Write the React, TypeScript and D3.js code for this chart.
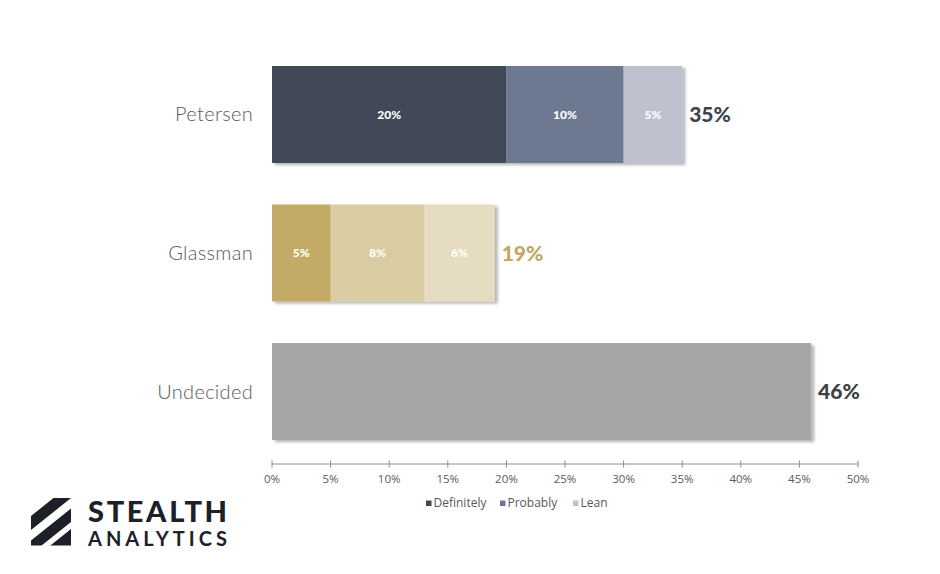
import { useEffect, useRef } from "react"
import * as d3 from "d3"

// Chart data
const candidates = ["Petersen", "Glassman", "Undecided"]
const definitely = [20, 5, 46]
const probably = [10, 8, 0]
const lean = [5, 6, 0]
const seriesNames = ["Definitely", "Probably", "Lean"]
const xTicks = [0, 5, 10, 15, 20, 25, 30, 35, 40, 45, 50]

// colours per candidate (segment shades) and for the total label
const palettes: Record<string, string[]> = {
  Petersen: ["#404855", "#6d7891", "#bdc2ce"],
  Glassman: ["#c3aa66", "#d9cca3", "#e6dcc2"],
  Undecided: ["#a6a6a6", "#a6a6a6", "#a6a6a6"],
}
const totalColors: Record<string, string> = {
  Petersen: "#3d4451",
  Glassman: "#c2a862",
  Undecided: "#404040",
}
const legendColors = ["#404855", "#6d7891", "#bdc2ce"]

interface Segment {
  candidate: string
  series: number
  start: number
  value: number
}

export default function App() {
  const svgRef = useRef<SVGSVGElement>(null)

  useEffect(() => {
    document.body.style.margin = "0"
    if (!svgRef.current) return
    const svg = d3.select(svgRef.current)
    svg.selectAll("*").remove()

    const width = 940
    const height = 574
    svg.attr("width", width).attr("height", height)

    const x = d3.scaleLinear().domain([0, 50]).range([272, 858])
    const y = d3.scaleBand<string>().domain(candidates).range([66, 440]).paddingInner(0.3)

    // shadow filter
    const defs = svg.append("defs")
    const filter = defs.append("filter").attr("id", "barShadow").attr("x", "-10%").attr("y", "-20%").attr("width", "130%").attr("height", "150%")
    filter
      .append("feDropShadow")
      .attr("dx", 3)
      .attr("dy", 2)
      .attr("stdDeviation", 1.8)
      .attr("flood-color", "#000")
      .attr("flood-opacity", 0.3)

    // build the stacked segments
    const segments: Segment[] = []
    candidates.forEach((c, i) => {
      const vals = [definitely[i], probably[i], lean[i]]
      let acc = 0
      vals.forEach((v, s) => {
        if (v > 0) segments.push({ candidate: c, series: s, start: acc, value: v })
        acc += v
      })
    })
    const totals = candidates.map((_, i) => definitely[i] + probably[i] + lean[i])

    // bars (one shadowed group per candidate)
    candidates.forEach((c) => {
      const g = svg.append("g").attr("filter", "url(#barShadow)")
      g.selectAll("rect")
        .data(segments.filter((d) => d.candidate === c))
        .enter()
        .append("rect")
        .attr("x", (d) => x(d.start))
        .attr("y", y(c)!)
        .attr("width", (d) => x(d.start + d.value) - x(d.start))
        .attr("height", y.bandwidth())
        .attr("fill", (d) => palettes[c][d.series])
    })

    // inner segment labels (not on the single undecided bar)
    svg
      .append("g")
      .selectAll("text")
      .data(segments.filter((d) => d.candidate !== "Undecided"))
      .enter()
      .append("text")
      .attr("x", (d) => x(d.start + d.value / 2))
      .attr("y", (d) => y(d.candidate)! + y.bandwidth() / 2)
      .attr("dy", "0.35em")
      .attr("text-anchor", "middle")
      .style("font-family", "Lato, sans-serif")
      .style("font-weight", "900")
      .style("font-size", "12px")
      .style("fill", "#ffffff")
      .text((d) => `${d.value}%`)

    // totals to the right of each bar
    svg
      .append("g")
      .selectAll("text")
      .data(candidates)
      .enter()
      .append("text")
      .attr("x", (_, i) => x(totals[i]) + 7)
      .attr("y", (c) => y(c)! + y.bandwidth() / 2)
      .attr("dy", "0.36em")
      .style("font-family", "Lato, sans-serif")
      .style("font-weight", "900")
      .style("font-size", "21px")
      .style("fill", (c) => totalColors[c])
      .text((_, i) => `${totals[i]}%`)

    // category labels
    svg
      .append("g")
      .selectAll("text")
      .data(candidates)
      .enter()
      .append("text")
      .attr("x", 253)
      .attr("y", (c) => y(c)! + y.bandwidth() / 2)
      .attr("dy", "0.35em")
      .attr("text-anchor", "end")
      .style("font-family", "Lato, sans-serif")
      .style("font-weight", "300")
      .style("font-size", "20px")
      .style("letter-spacing", "0.3px")
      .style("fill", "#5a5a5a")
      .text((c) => c)

    // x axis
    const axisY = 464
    const axis = svg.append("g")
    axis
      .append("line")
      .attr("x1", x(0))
      .attr("x2", x(50))
      .attr("y1", axisY)
      .attr("y2", axisY)
      .attr("stroke", "#8c8c8c")
      .attr("stroke-width", 1)
    axis
      .selectAll(".tick")
      .data(xTicks)
      .enter()
      .append("line")
      .attr("x1", (d) => x(d))
      .attr("x2", (d) => x(d))
      .attr("y1", axisY - 3.5)
      .attr("y2", axisY + 3.5)
      .attr("stroke", "#8c8c8c")
    axis
      .selectAll(".tickLabel")
      .data(xTicks)
      .enter()
      .append("text")
      .attr("x", (d) => x(d))
      .attr("y", 483)
      .attr("text-anchor", "middle")
      .style("font-family", "'Open Sans', sans-serif")
      .style("font-size", "11.5px")
      .style("fill", "#595959")
      .text((d) => `${d}%`)

    // legend
    const legendX = [426, 500, 573]
    const legend = svg
      .append("g")
      .selectAll("g")
      .data(seriesNames)
      .enter()
      .append("g")
      .attr("transform", (_, i) => `translate(${legendX[i]}, 503)`)
    legend.append("rect").attr("x", 0).attr("y", -2.5).attr("width", 5.5).attr("height", 5.5).attr("fill", (_, i) => legendColors[i])
    legend
      .append("text")
      .attr("x", 7.5)
      .attr("y", 4.3)
      .style("font-family", "'Open Sans', sans-serif")
      .style("font-size", "12px")
      .style("fill", "#595959")
      .text((d) => d)

    // logo
    const logo = svg.append("g")
    const clip = defs.append("clipPath").attr("id", "logoClip")
    clip.append("rect").attr("x", 31).attr("y", 498).attr("width", 40).attr("height", 47.5)
    // stripes: bands between lines v + 0.8u = c (u,v local to the icon box)
    const band = (c0: number, c1: number) => {
      const pts = [
        [31 + c0 / 0.8, 498],
        [31 + c1 / 0.8, 498],
        [31, 498 + c1],
        [31, 498 + c0],
      ]
      // extend past the box so the clip does the trimming
      const ext = 80
      return [
        [pts[0][0] + ext, pts[0][1] - ext * 0.8],
        [pts[1][0] + ext, pts[1][1] - ext * 0.8],
        [pts[2][0] - ext, pts[2][1] + ext * 0.8],
        [pts[3][0] - ext, pts[3][1] + ext * 0.8],
      ]
        .map((p) => p.join(","))
        .join(" ")
    }
    const logoG = logo.append("g").attr("clip-path", "url(#logoClip)")
    ;[
      [18, 32],
      [42.5, 56],
      [63, 200],
    ].forEach(([a, b]) => {
      logoG.append("polygon").attr("points", band(a, b)).attr("fill", "#1d2028")
    })
    logo
      .append("text")
      .attr("x", 88)
      .attr("y", 522)
      .attr("textLength", 139)
      .attr("lengthAdjust", "spacing")
      .style("font-family", "Lato, sans-serif")
      .style("font-weight", "900")
      .style("font-size", "29px")
      .style("fill", "#1d2028")
      .text("STEALTH")
    logo
      .append("text")
      .attr("x", 88)
      .attr("y", 546)
      .attr("textLength", 139)
      .attr("lengthAdjust", "spacing")
      .style("font-family", "Lato, sans-serif")
      .style("font-weight", "bold")
      .style("font-size", "20px")
      .style("fill", "#1d2028")
      .text("ANALYTICS")
  }, [])

  return <svg ref={svgRef} style={{ display: "block", background: "#ffffff" }}></svg>
}
